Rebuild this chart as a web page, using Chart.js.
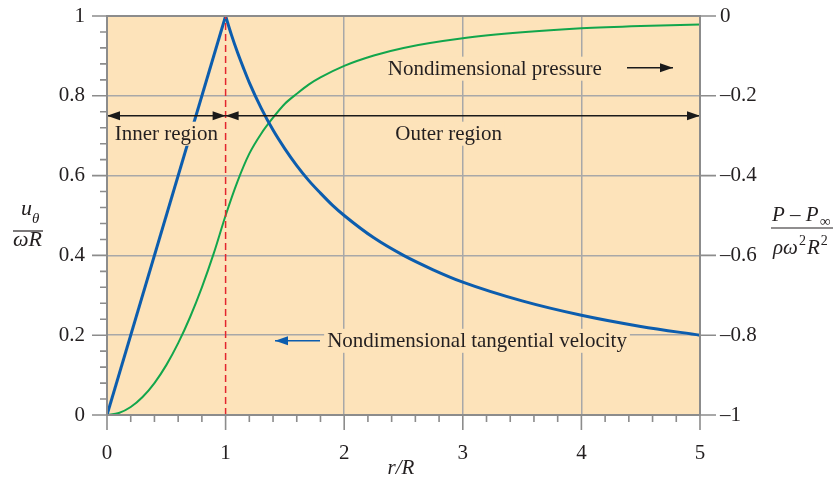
<!DOCTYPE html>
<html>
<head>
<meta charset="utf-8">
<script src="https://cdn.jsdelivr.net/npm/chart.js@4/dist/chart.umd.min.js"></script>
<style>
  html, body { margin: 0; padding: 0; background: #fff; }
  canvas { display: block; }
</style>
</head>
<body>
<canvas id="chart" width="839" height="485"></canvas>
<script>
// Данные
const rInner = [0, 1];
const velInner = [0, 1];

const rOuter = [1, 1.05, 1.1, 1.15, 1.2, 1.3, 1.4, 1.5, 1.6, 1.7, 1.8, 1.9, 2, 2.25, 2.5, 2.75, 3, 3.5, 4, 4.5, 5];
const velOuter = [1, 0.952, 0.909, 0.87, 0.833, 0.769, 0.714, 0.667, 0.625, 0.588, 0.556, 0.526, 0.5, 0.444, 0.4, 0.364, 0.333, 0.286, 0.25, 0.222, 0.2];

const rPress = [0, 0.1, 0.2, 0.3, 0.4, 0.5, 0.6, 0.7, 0.8, 0.9, 1, 1.1, 1.2, 1.3, 1.4, 1.5, 1.6, 1.7, 1.8, 2, 2.25, 2.5, 3, 3.5, 4, 4.5, 5];
const pressure = [-1, -0.995, -0.98, -0.955, -0.92, -0.875, -0.82, -0.755, -0.68, -0.595, -0.5, -0.415, -0.345, -0.295, -0.255, -0.22, -0.195, -0.172, -0.154, -0.125, -0.099, -0.08, -0.056, -0.041, -0.031, -0.025, -0.021];

const xTicks = [0, 1, 2, 3, 4, 5];
const leftTicks = [0, 0.2, 0.4, 0.6, 0.8, 1];
const rightTicks = [-1, -0.8, -0.6, -0.4, -0.2, 0];

const SERIF = "'Liberation Serif', 'Times New Roman', serif";
const BLUE = "#0c5dae";
const GREEN = "#12a64c";
const AXIS = "#8c8c8c";
const GRID = "#a8a8a8";
const PEACH = "#fde3ba";
const TEXT = "#231f20";

const pts = (xs, ys) => xs.map((x, i) => ({ x: x, y: ys[i] }));

// Подписи внутри графика
const labels = [
  { text: "Inner region", x: 0.5, y: 0.705 },
  { text: "Outer region", x: 2.88, y: 0.705 },
  { text: "Nondimensional pressure", x: 3.27, y: 0.868 },
  { text: "Nondimensional tangential velocity", x: 3.12, y: 0.186 },
];

// убираем лишние отступы, чтобы область графика была на нужном месте
function noPad(s) {
  s.paddingTop = 0;
  s.paddingBottom = 0;
  s.paddingLeft = 0;
  s.paddingRight = 0;
}

// Плагин: фон, рамка, засечки, стрелки и подписи
const decor = {
  id: "decor",
  beforeDraw(chart) {
    const { ctx, chartArea: a } = chart;
    ctx.save();
    ctx.fillStyle = PEACH;
    ctx.fillRect(a.left, a.top, a.right - a.left, a.bottom - a.top);
    ctx.restore();
  },
  afterDatasetsDraw(chart) {
    const { ctx, chartArea: a, scales } = chart;
    const xs = scales.x, yl = scales.y, yr = scales.y2;
    ctx.save();

    // красная пунктирная линия r/R = 1
    ctx.strokeStyle = "#e3262e";
    ctx.lineWidth = 1.5;
    ctx.setLineDash([7, 4]);
    ctx.beginPath();
    ctx.moveTo(xs.getPixelForValue(1), yl.getPixelForValue(0));
    ctx.lineTo(xs.getPixelForValue(1), yl.getPixelForValue(1));
    ctx.stroke();
    ctx.setLineDash([]);

    // подписи с фоном
    ctx.font = "21px " + SERIF;
    ctx.textAlign = "center";
    ctx.textBaseline = "middle";
    labels.forEach((l) => {
      const px = xs.getPixelForValue(l.x);
      const py = yl.getPixelForValue(l.y);
      const w = ctx.measureText(l.text).width;
      ctx.fillStyle = PEACH;
      ctx.fillRect(px - w / 2 - 3, py - 12, w + 6, 24);
      ctx.fillStyle = TEXT;
      ctx.fillText(l.text, px, py + 1);
    });

    // стрелки областей
    const yA = yl.getPixelForValue(0.75);
    function arrowLine(x1, x2, y, color, headStart, headEnd) {
      ctx.strokeStyle = color;
      ctx.fillStyle = color;
      ctx.lineWidth = 1.5;
      ctx.beginPath();
      ctx.moveTo(x1, y);
      ctx.lineTo(x2, y);
      ctx.stroke();
      const head = (x, dir) => {
        ctx.beginPath();
        ctx.moveTo(x, y);
        ctx.lineTo(x - dir * 13, y - 4.5);
        ctx.lineTo(x - dir * 13, y + 4.5);
        ctx.closePath();
        ctx.fill();
      };
      if (headStart) head(x1, -1);
      if (headEnd) head(x2, 1);
    }
    arrowLine(xs.getPixelForValue(0), xs.getPixelForValue(1), yA, "#1a1a1a", true, true);
    arrowLine(xs.getPixelForValue(1), xs.getPixelForValue(5), yA, "#1a1a1a", true, true);
    arrowLine(627, 673, yl.getPixelForValue(0.868) - 1, "#1a1a1a", false, true);
    arrowLine(275, 320, yl.getPixelForValue(0.186), BLUE, true, false);

    // рамка и оси
    ctx.strokeStyle = AXIS;
    ctx.lineWidth = 2;
    ctx.beginPath();
    ctx.moveTo(a.left, a.bottom);
    ctx.lineTo(a.left, a.top);
    ctx.lineTo(a.right, a.top);
    ctx.lineTo(a.right, a.bottom);
    ctx.lineTo(a.left, a.bottom);
    ctx.stroke();

    ctx.lineWidth = 1.6;
    ctx.beginPath();
    // левая ось: основные и мелкие засечки
    for (let i = 0; i <= 25; i++) {
      const py = yl.getPixelForValue(i * 0.04);
      const len = i % 5 === 0 ? 15 : 7;
      ctx.moveTo(a.left, py);
      ctx.lineTo(a.left - len, py);
    }
    // нижняя ось
    for (let i = 0; i <= 25; i++) {
      const px = xs.getPixelForValue(i * 0.2);
      const len = i % 5 === 0 ? 15 : 7;
      ctx.moveTo(px, a.bottom);
      ctx.lineTo(px, a.bottom + len);
    }
    // правая ось
    rightTicks.forEach((v) => {
      const py = yr.getPixelForValue(v);
      ctx.moveTo(a.right, py);
      ctx.lineTo(a.right + 16, py);
    });
    ctx.stroke();

    // подписи осей
    ctx.fillStyle = TEXT;
    ctx.textBaseline = "alphabetic";
    ctx.textAlign = "left";
    ctx.font = "italic 22px " + SERIF;
    ctx.fillText("u", 21, 215);
    ctx.font = "italic 15px " + SERIF;
    ctx.fillText("\u03b8", 32, 223);
    ctx.font = "italic 22px " + SERIF;
    ctx.fillText("\u03c9R", 13, 246);
    ctx.strokeStyle = TEXT;
    ctx.lineWidth = 1.2;
    ctx.beginPath();
    ctx.moveTo(13, 231);
    ctx.lineTo(43, 231);
    ctx.stroke();

    ctx.font = "italic 21px " + SERIF;
    ctx.fillText("P \u2013 P", 772, 221);
    ctx.font = "15px " + SERIF;
    ctx.fillText("\u221e", 820, 226);
    ctx.beginPath();
    ctx.moveTo(771, 228);
    ctx.lineTo(833, 228);
    ctx.stroke();
    ctx.font = "italic 21px " + SERIF;
    ctx.fillText("\u03c1\u03c9", 773, 254);
    let w1 = ctx.measureText("\u03c1\u03c9").width;
    ctx.font = "14px " + SERIF;
    ctx.fillText("2", 773 + w1 + 1, 245);
    ctx.font = "italic 21px " + SERIF;
    ctx.fillText("R", 773 + w1 + 9, 254);
    let w2 = ctx.measureText("R").width;
    ctx.font = "14px " + SERIF;
    ctx.fillText("2", 773 + w1 + 10 + w2, 245);

    ctx.textAlign = "center";
    ctx.font = "italic 21px " + SERIF;
    ctx.fillText("r/R", 401, 474);
    ctx.restore();
  },
};

const ctx = document.getElementById("chart").getContext("2d");

const chart = new Chart(ctx, {
  type: "scatter",
  data: {
    datasets: [
      {
        data: pts(rInner, velInner),
        showLine: true,
        borderColor: BLUE,
        borderWidth: 3,
        pointRadius: 0,
        yAxisID: "y",
      },
      {
        data: pts(rOuter, velOuter),
        showLine: true,
        borderColor: BLUE,
        borderWidth: 3,
        pointRadius: 0,
        cubicInterpolationMode: "monotone",
        yAxisID: "y",
      },
      {
        data: pts(rPress, pressure),
        showLine: true,
        borderColor: GREEN,
        borderWidth: 2,
        pointRadius: 0,
        cubicInterpolationMode: "monotone",
        yAxisID: "y2",
      },
    ],
  },
  options: {
    responsive: false,
    animation: false,
    layout: { padding: { top: 16, left: 0, right: 0, bottom: 0 } },
    plugins: {
      legend: { display: false },
      tooltip: { enabled: false },
    },
    scales: {
      x: {
        type: "linear",
        min: 0,
        max: 5,
        afterBuildTicks: (s) => { s.ticks = xTicks.map((v) => ({ value: v })); },
        afterFit: (s) => { s.height = 70; noPad(s); },
        border: { display: false },
        grid: {
          drawTicks: false,
          lineWidth: 1.5,
          color: (c) => (c.tick && c.tick.value >= 2 && c.tick.value <= 4 ? GRID : "rgba(0,0,0,0)"),
        },
        ticks: {
          padding: 26,
          color: TEXT,
          font: { family: SERIF, size: 21 },
        },
      },
      y: {
        position: "left",
        min: 0,
        max: 1,
        afterBuildTicks: (s) => { s.ticks = leftTicks.map((v) => ({ value: v })); },
        afterFit: (s) => { s.width = 107; noPad(s); },
        border: { display: false },
        grid: {
          drawTicks: false,
          lineWidth: 1.5,
          color: (c) => (c.tick && c.tick.value > 0.1 && c.tick.value < 0.9 ? GRID : "rgba(0,0,0,0)"),
        },
        ticks: {
          padding: 22,
          color: TEXT,
          font: { family: SERIF, size: 21 },
          callback: (v) => String(Math.round(v * 10) / 10),
        },
      },
      y2: {
        position: "right",
        min: -1,
        max: 0,
        afterBuildTicks: (s) => { s.ticks = rightTicks.map((v) => ({ value: v })); },
        afterFit: (s) => { s.width = 139; noPad(s); },
        border: { display: false },
        grid: { display: false, drawTicks: false },
        ticks: {
          padding: 20,
          color: TEXT,
          font: { family: SERIF, size: 21 },
          callback: (v) => {
            const r = Math.round(v * 10) / 10;
            return r < 0 ? "\u2013" + String(Math.abs(r)) : "0";
          },
        },
      },
    },
  },
  plugins: [decor],
});
</script>
</body>
</html>
